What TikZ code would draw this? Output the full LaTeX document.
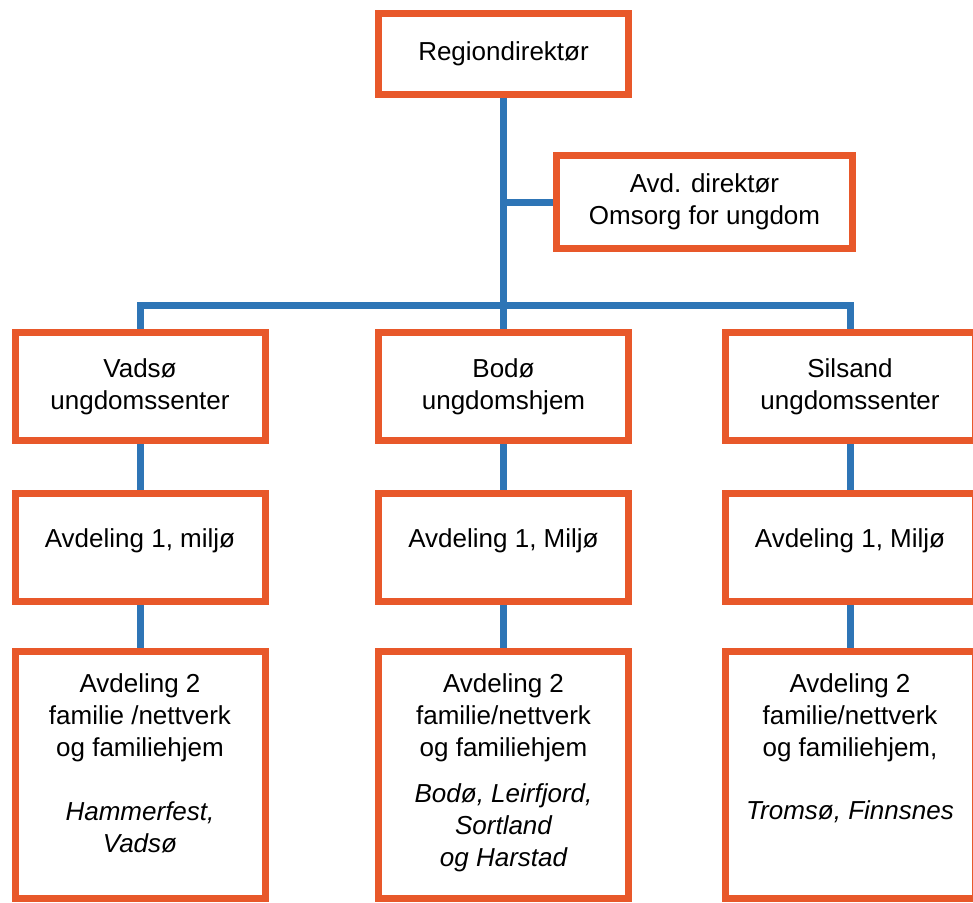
\documentclass[tikz,border=0pt]{standalone}
\usepackage{fontspec}
\setmainfont{Liberation Sans}
\usetikzlibrary{positioning}
\definecolor{boxorange}{RGB}{232,88,42}
\definecolor{lineblue}{RGB}{46,117,182}
\tikzset{
    %Define style for boxes
    unit/.style={
		rectangle,
		draw=boxorange, line width=7pt,
		fill=white,
		minimum width=250pt,
		minimum height=108pt,
		align=center,
		font=\fontsize{26}{32}\selectfont},
	%Boxes with one line of text, set a bit high
	miljo/.style={
		unit,
		text height=19pt,
		text depth=19pt},
	%Tall boxes at the bottom
	fam/.style={
		unit,
		minimum height=247pt},
	%Define style for connectors
	link/.style = {
		draw=lineblue,
		line width=7pt}
}

\begin{document}
\begin{tikzpicture}[x=1pt, y=-1pt, node distance=46pt]
			\useasboundingbox (0,0) rectangle (973,902);
			\clip (0,0) rectangle (973,902);
			\node[unit, minimum height=81pt] at (503.5,54)	(chief)	{Regiondirektør};
			\node[unit, minimum width=296pt, minimum height=93pt] at (704.5,202)	(deputy)	{Avd. direktør\\Omsorg for ungdom};
			\node[unit] at (140,386.5)	(vadso)	{Vadsø\\ungdomssenter};
			\node[unit] at (503.5,386.5)	(bodo)	{Bodø\\ungdomshjem};
			\node[unit] at (850,386.5)	(silsand)	{Silsand\\ungdomssenter};
			\node[miljo, below=of vadso]	(vadsomiljo)	{Avdeling 1, miljø};
			\node[miljo, below=of bodo]	(bodomiljo)	{Avdeling 1, Miljø};
			\node[miljo, below=of silsand]	(silsandmiljo)	{Avdeling 1, Miljø};
			\node[fam, below=43pt of vadsomiljo]	(vadsofam)	{\parbox[c][202pt][t]{220pt}{\centering
				Avdeling 2\\familie /nettverk\\og familiehjem\\[32pt]
				\itshape Hammerfest,\\Vadsø}};
			\node[fam, below=43pt of bodomiljo]	(bodofam)	{\parbox[c][202pt][t]{220pt}{\centering
				Avdeling 2\\familie/nettverk\\og familiehjem\\[14pt]
				\itshape Bodø, Leirfjord,\\Sortland\\og Harstad}};
			\node[fam, below=43pt of silsandmiljo]	(silsandfam)	{\parbox[c][202pt][t]{220pt}{\centering
				Avdeling 2\\familie/nettverk\\og familiehjem,\\[31pt]
				\itshape Tromsø, Finnsnes}};
			\coordinate (bus) at (503.5,305);
			\path[link]	(chief)--(bodo);
			\path[link]	(deputy.west -| chief)--(deputy);
			\path[link]	(vadso) |- (bus) -| (silsand);
			\path[link]	(vadso)--(vadsomiljo);
			\path[link]	(vadsomiljo)--(vadsofam);
			\path[link]	(bodo)--(bodomiljo);
			\path[link]	(bodomiljo)--(bodofam);
			\path[link]	(silsand)--(silsandmiljo);
			\path[link]	(silsandmiljo)--(silsandfam);
		\end{tikzpicture}
\end{document}
